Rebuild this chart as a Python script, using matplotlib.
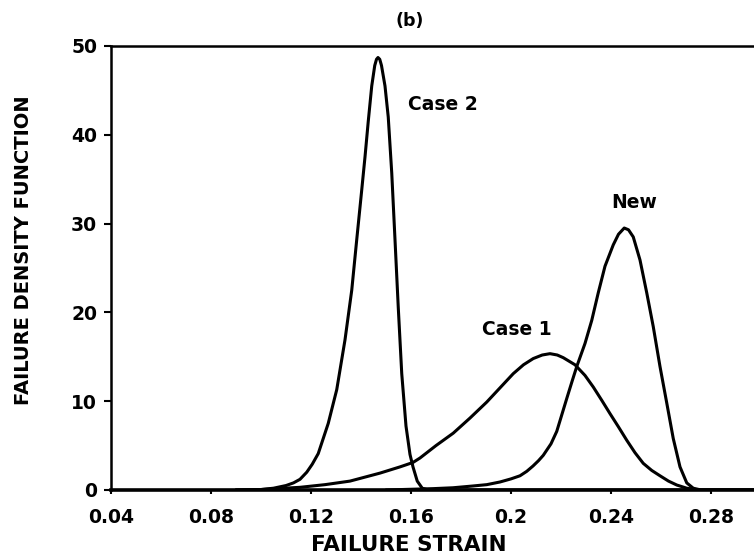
import matplotlib
matplotlib.use("Agg")
import matplotlib.pyplot as plt

# values
case2_x = [0.090, 0.100, 0.105, 0.110, 0.1130, 0.1156, 0.1183, 0.1205, 0.1229,
           0.1269, 0.1303, 0.1336, 0.1363, 0.1383, 0.1403, 0.1416, 0.1429,
           0.1443, 0.1455, 0.1462, 0.1468, 0.1475, 0.1482, 0.1496, 0.1509,
           0.1523, 0.1536, 0.1549, 0.1563, 0.1580, 0.1596, 0.1608, 0.1625,
           0.1645, 0.1670, 0.300]
case2_y = [0.0, 0.05, 0.2, 0.5, 0.8, 1.2, 2.0, 2.9, 4.1,
           7.5, 11.3, 16.9, 22.5, 28.2, 33.8, 37.5, 41.5,
           45.5, 47.8, 48.5, 48.7, 48.5, 47.8, 45.5, 42.0,
           35.7, 28.2, 20.6, 13.1, 7.2, 4.0, 2.6, 1.0,
           0.2, 0.0, 0.0]

case1_x = [0.090, 0.100, 0.1156, 0.1256, 0.1356, 0.1476, 0.1556, 0.1608,
           0.1636, 0.1700, 0.1769, 0.1836, 0.1903, 0.1956, 0.2009, 0.2050,
           0.2089, 0.2125, 0.2156, 0.2185, 0.2209, 0.2256, 0.2296, 0.2329,
           0.2363, 0.2396, 0.2430, 0.2463, 0.2496, 0.2529, 0.2563, 0.2596,
           0.2630, 0.2663, 0.2703, 0.2750, 0.300]
case1_y = [0.0, 0.05, 0.3, 0.6, 1.0, 1.9, 2.6, 3.1,
           3.6, 5.0, 6.4, 8.1, 9.9, 11.5, 13.1, 14.1,
           14.8, 15.2, 15.35, 15.2, 14.9, 14.1, 12.9, 11.6,
           10.1, 8.6, 7.1, 5.6, 4.2, 3.0, 2.2, 1.6,
           1.0, 0.56, 0.2, 0.0, 0.0]

new_x = [0.150, 0.1688, 0.1768, 0.1848, 0.1903, 0.1956, 0.2000, 0.2036,
         0.2063, 0.2088, 0.2110, 0.2129, 0.2160, 0.2183, 0.2196, 0.2223,
         0.2245, 0.2263, 0.2296, 0.2323, 0.2349, 0.2376, 0.2409, 0.2430,
         0.2453, 0.2470, 0.2489, 0.2516, 0.2543, 0.2569, 0.2596, 0.2623,
         0.2649, 0.2676, 0.2703, 0.2729, 0.2760, 0.300]
new_y = [0.0, 0.15, 0.25, 0.45, 0.6, 0.9, 1.25, 1.6,
         2.1, 2.7, 3.3, 3.9, 5.2, 6.6, 7.8, 10.3,
         12.3, 13.9, 16.5, 19.1, 22.2, 25.2, 27.6, 28.8,
         29.5, 29.3, 28.5, 25.9, 22.2, 18.4, 13.9, 9.8,
         5.8, 2.6, 0.8, 0.2, 0.0, 0.0]

x_ticks = [0.04, 0.08, 0.12, 0.16, 0.2, 0.24, 0.28]
x_tick_labels = ["0.04", "0.08", "0.12", "0.16", "0.2", "0.24", "0.28"]
y_ticks = [0, 10, 20, 30, 40, 50]

labels = ["Case 2", "Case 1", "New"]
label_pos = [(0.1728, 43.4), (0.2024, 18.1), (0.2492, 32.4)]

plt.rcParams['font.family'] = ['DejaVu Sans']

fig = plt.figure(figsize=(7.54, 5.58), dpi=100)
ax = fig.add_axes([0.1472, 0.1219, 0.8528, 0.7957])

for xs, ys in [(case2_x, case2_y), (case1_x, case1_y), (new_x, new_y)]:
    ax.plot(xs, ys, color='black', lw=2.2, solid_joinstyle='round',
            solid_capstyle='round')

for txt, (tx, ty) in zip(labels, label_pos):
    ax.text(tx, ty, txt, ha='center', va='center', fontsize=13.5, fontweight='bold')

ax.set_xlim(0.04, 0.2972)
ax.set_ylim(0, 50)
ax.set_xticks(x_ticks)
ax.set_xticklabels(x_tick_labels)
ax.set_yticks(y_ticks)

ax.spines['right'].set_visible(False)
for s in ['left', 'bottom', 'top']:
    ax.spines[s].set_linewidth(1.8)
ax.spines['bottom'].set_linewidth(2.6)

ax.tick_params(axis='y', direction='out', length=5, width=1.5, pad=5,
               labelsize=13.5)
ax.tick_params(axis='x', direction='out', length=3, width=1.5, pad=10,
               labelsize=13.5)
for lab in ax.get_xticklabels() + ax.get_yticklabels():
    lab.set_fontweight('bold')

# axis titles sit off-centre in the original, so place them by hand
fig.text(409 / 754, 1 - 545 / 558, "FAILURE STRAIN", ha='center', va='center',
         fontsize=15.5, fontweight='bold')
fig.text(24 / 754, 1 - 250 / 558, "FAILURE DENSITY FUNCTION", ha='center',
         va='center', rotation=90, fontsize=14, fontweight='bold')
fig.text(410 / 754, 1 - 21 / 558, "(b)", ha='center', va='center',
         fontsize=12.5, fontweight='bold')

fig.savefig("out.png", dpi=100)
